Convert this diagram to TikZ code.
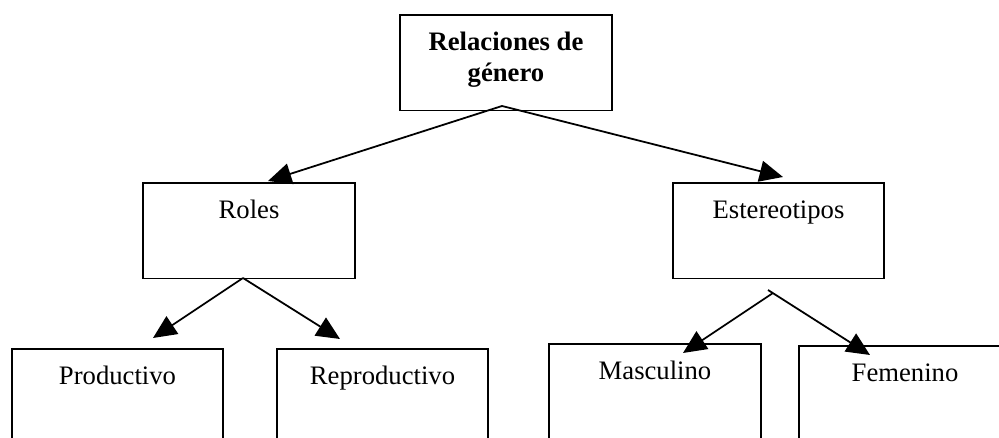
\documentclass[tikz,border=0pt]{standalone}
\usepackage{fontspec}
\setmainfont{Liberation Serif}
\usetikzlibrary{arrows.meta}
\tikzset{
    box/.style={draw, line width=0.8pt, anchor=north, inner sep=0pt,
        minimum width=95.2pt, text height=16pt, text depth=27pt,
        font=\fontsize{12pt}{14pt}\selectfont, align=center},
    openbox/.style={box, text depth=60pt},
    link/.style={line width=0.8pt, -{Triangle[length=10.5pt,width=9.5pt]}}
}
\begin{document}
\begin{tikzpicture}[x=0.45pt, y=-0.45pt]
        \useasboundingbox (0,0) rectangle (999,438);
        \clip (0,0) rectangle (999,438);
        % boxes
        \node[box, text height=30pt, text depth=13pt,
            font=\fontsize{12pt}{14pt}\selectfont\bfseries] (rel) at (506,14) {Relaciones de\\género};
        \node[box] (roles) at (249,182) {Roles};
        \node[box] (est)   at (778.5,182) {Estereotipos};
        % lower boxes, cut off at the bottom
        \node[openbox] (prod)  at (117.5,348) {Productivo};
        \node[openbox] (repro) at (382.5,348) {Reproductivo};
        \node[openbox] (masc)  at (655,343) {Masculino};
        \node[openbox] (fem)   at (905,345) {Femenino};
        % fork points and arrow tips
        \coordinate (relfork)   at (502,106);
        \coordinate (rolesfork) at (243,278);
        \coordinate (estfork)   at (773,293);
        \coordinate (estfork2)  at (768,290);
        \coordinate (rolestip)  at (268,181);
        \coordinate (esttip)    at (783,177);
        \coordinate (prodtip)   at (153,338);
        \coordinate (reprotip)  at (340,339);
        \coordinate (masctip)   at (683,353);
        \coordinate (femtip)    at (870,355);
        % arrows
        \draw[link] (relfork) -- (rolestip);
        \draw[link] (relfork) -- (esttip);
        \draw[link] (rolesfork) -- (prodtip);
        \draw[link] (rolesfork) -- (reprotip);
        \draw[link] (estfork) -- (masctip);
        \draw[link] (estfork2) -- (femtip);
\end{tikzpicture}
\end{document}
